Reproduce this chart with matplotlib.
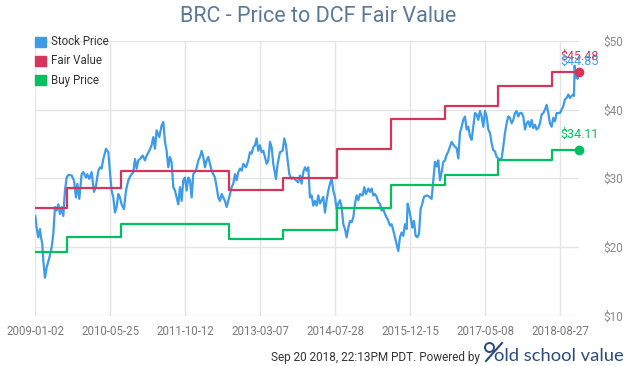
import matplotlib
matplotlib.use("Agg")
import matplotlib.pyplot as plt
from matplotlib.patches import Rectangle, Circle

plt.rcParams['font.family'] = ['Roboto', 'DejaVu Sans']

title = "BRC - Price to DCF Fair Value"
tick_idx = [0, 225, 450, 675, 900, 1125, 1350, 1575]
tick_labels = ["2009-01-02", "2010-05-25", "2011-10-12", "2013-03-07",
               "2014-07-28", "2015-12-15", "2017-05-08", "2018-08-27"]
y_ticks = [10, 20, 30, 40, 50]
y_labels = ["$10", "$20", "$30", "$40", "$50"]

stock_idx = [0, 4, 9, 14, 17, 21, 24, 29, 34, 42, 49, 54, 59, 64, 69, 74, 79, 84, 89, 94,
             99, 109, 116, 122, 126, 132, 139, 144, 152, 156, 162, 169, 176, 182, 189, 194,
             199, 204, 212, 219, 224, 229, 234, 239, 244, 249, 254, 259, 266, 272, 279, 286,
             294, 299, 304, 309, 314, 322, 329, 334, 342, 349, 354, 359, 364, 372, 379, 384,
             389, 394, 399, 404, 409, 414, 419, 424, 429, 434, 439, 444, 449, 454, 459, 464,
             469, 474, 482, 489, 494, 499, 504, 509, 514, 519, 524, 529, 534, 539, 544, 549,
             554, 559, 564, 569, 574, 579, 584, 589, 594, 599, 604, 609, 614, 619, 624, 632,
             639, 644, 649, 654, 659, 664, 669, 674, 679, 684, 689, 694, 699, 704, 709, 714,
             722, 727, 734, 742, 747, 752, 757, 762, 769, 774, 782, 789, 794, 799, 804, 809,
             814, 819, 824, 829, 834, 839, 844, 849, 854, 864, 869, 874, 879, 884, 889, 894,
             899, 904, 909, 914, 919, 924, 929, 934, 939, 944, 949, 954, 959, 964, 969, 974,
             982, 987, 992, 999, 1004, 1009, 1014, 1019, 1024, 1029, 1034, 1039, 1044, 1049,
             1054, 1059, 1064, 1069, 1074, 1079, 1084, 1089, 1094, 1099, 1104, 1109, 1114,
             1117, 1122, 1126, 1131, 1136, 1141, 1146, 1151, 1156, 1161, 1166, 1174, 1182,
             1189, 1194, 1199, 1204, 1209, 1214, 1219, 1224, 1229, 1234, 1239, 1244, 1249,
             1254, 1259, 1264, 1269, 1274, 1279, 1284, 1289, 1294, 1299, 1304, 1309, 1314,
             1319, 1324, 1329, 1334, 1339, 1344, 1349, 1354, 1359, 1364, 1369, 1374, 1379,
             1384, 1389, 1394, 1399, 1404, 1409, 1414, 1419, 1424, 1429, 1434, 1439, 1444,
             1449, 1454, 1459, 1464, 1469, 1474, 1479, 1484, 1489, 1494, 1499, 1504, 1509,
             1514, 1519, 1524, 1529, 1534, 1539, 1544, 1549, 1554, 1559, 1564, 1569, 1574,
             1579, 1584, 1589, 1594, 1599, 1604, 1609, 1614, 1616, 1618, 1621, 1624, 1627,
             1630, 1632]
stock_price = [24.5, 22.8, 21.4, 22.6, 21.4, 20.4, 18.0, 15.5, 17.0, 18.4, 19.9, 21.9, 25.8,
               25.3, 26.2, 24.8, 25.8, 24.5, 28.2, 30.1, 30.5, 30.4, 29.7, 27.2, 29.2, 27.0,
               30.6, 30.9, 30.1, 30.6, 29.9, 30.9, 28.0, 28.9, 31.1, 31.6, 31.4, 32.8, 34.3,
               33.8, 30.9, 28.2, 27.2, 25.0, 25.8, 27.7, 27.2, 26.2, 25.5, 28.2, 29.7, 30.4,
               30.9, 32.8, 31.4, 32.6, 32.8, 33.3, 32.6, 33.3, 34.0, 34.8, 36.0, 34.3, 37.0,
               36.0, 37.7, 38.2, 35.3, 34.0, 31.6, 33.1, 32.3, 28.7, 28.2, 27.2, 26.2, 28.7,
               26.7, 29.7, 30.1, 28.2, 30.1, 29.7, 27.2, 30.6, 31.1, 32.6, 33.1, 34.0, 33.1,
               31.6, 32.6, 33.1, 32.1, 31.1, 30.6, 30.1, 28.7, 27.2, 26.7, 27.7, 27.2, 26.7,
               25.8, 26.7, 27.7, 28.7, 29.2, 30.6, 29.7, 30.9, 31.4, 31.1, 32.1, 31.6, 32.6,
               33.8, 33.6, 34.5, 34.8, 35.8, 34.0, 34.8, 33.8, 34.0, 33.1, 32.1, 32.6, 35.3,
               34.5, 32.1, 29.9, 32.1, 33.8, 34.0, 35.8, 34.8, 32.6, 30.6, 29.9, 30.1, 29.7,
               29.4, 30.4, 29.2, 30.9, 31.6, 31.1, 31.6, 27.2, 27.5, 26.0, 26.7, 26.0, 27.5,
               26.3, 27.3, 25.0, 26.8, 28.2, 29.2, 30.0, 28.2, 27.3, 25.5, 26.3, 26.8, 25.8,
               23.3, 22.6, 21.4, 22.8, 23.8, 23.6, 24.3, 26.3, 27.5, 26.8, 27.7, 27.5, 28.7,
               27.7, 28.5, 28.0, 28.5, 27.5, 27.7, 27.3, 26.5, 26.3, 25.3, 25.5, 24.8, 24.3,
               23.8, 23.1, 23.3, 22.4, 21.4, 20.4, 19.4, 21.4, 22.1, 21.6, 23.3, 22.6, 26.3,
               25.3, 24.3, 22.8, 23.8, 21.6, 21.4, 21.9, 25.5, 26.3, 27.3, 27.5, 27.3, 27.0,
               29.7, 32.4, 31.7, 32.6, 29.7, 30.9, 32.4, 32.6, 33.4, 33.9, 34.6, 35.3, 34.9,
               34.6, 34.4, 32.9, 36.6, 37.5, 38.5, 39.0, 37.1, 37.5, 36.1, 35.6, 37.5, 39.5,
               39.3, 38.5, 39.8, 39.0, 37.5, 39.8, 39.0, 37.1, 36.6, 35.1, 34.1, 33.9, 33.1,
               32.9, 32.6, 32.9, 34.6, 36.6, 38.0, 39.0, 38.8, 38.0, 38.5, 39.5, 39.8, 39.0,
               39.5, 39.5, 39.0, 37.1, 38.0, 38.3, 37.5, 38.5, 37.3, 37.8, 37.1, 37.3, 38.0,
               39.3, 39.5, 40.0, 40.7, 39.5, 38.0, 37.5, 38.8, 38.3, 39.5, 39.5, 39.5, 40.0,
               40.5, 41.5, 41.7, 42.2, 41.7, 42.0, 42.2, 42.0, 46.4, 44.6, 45.6, 44.5, 45.2,
               44.85]

step_idx = [0, 94, 256, 580, 742, 904, 1066, 1229, 1389, 1551, 1632]
fair_value = [25.7, 28.6, 31.1, 28.3, 30.0, 34.2, 38.6, 40.6, 43.4, 45.48, 45.48]
buy_price = [19.3, 21.5, 23.3, 21.2, 22.5, 25.6, 29.0, 30.5, 32.6, 34.11, 34.11]

c_stock = '#3d9be9'
c_fair = '#d6355b'
c_buy = '#00c060'
c_logo = '#2a4b7c'

W, H = 635, 366
fig = plt.figure(figsize=(W / 100, H / 100), dpi=100)
ax = fig.add_axes([35.3 / W, 1 - 315.5 / H, (579.3 - 35.3) / W, (315.5 - 41) / H])

ax.plot(stock_idx, stock_price, color=c_stock, lw=1.6, zorder=3, solid_joinstyle='round')
ax.plot(step_idx, fair_value, color=c_fair, lw=1.6, drawstyle='steps-post', zorder=4)
ax.plot(step_idx, buy_price, color=c_buy, lw=1.6, drawstyle='steps-post', zorder=4)

ax.plot([step_idx[-1]], [fair_value[-1]], 'o', color=c_fair, ms=6, zorder=6, clip_on=False)
ax.plot([step_idx[-1]], [buy_price[-1]], 'o', color=c_buy, ms=6, zorder=6, clip_on=False)

ax.annotate(f"${fair_value[-1]:.2f}", (step_idx[-1], fair_value[-1]), xytext=(0, 11.5),
            textcoords='offset points', ha='center', va='center', color=c_fair, fontsize=9,
            annotation_clip=False, zorder=7)
ax.annotate(f"${stock_price[-1]:.2f}", (stock_idx[-1], stock_price[-1]), xytext=(0, 11),
            textcoords='offset points', ha='center', va='center', color=c_stock, fontsize=9,
            annotation_clip=False, zorder=7)
ax.annotate(f"${buy_price[-1]:.2f}", (step_idx[-1], buy_price[-1]), xytext=(0, 11.5),
            textcoords='offset points', ha='center', va='center', color=c_buy, fontsize=9,
            annotation_clip=False, zorder=7)

ax.set_xlim(0, 1632)
ax.set_ylim(10, 50)
ax.set_xticks(tick_idx)
ax.set_xticklabels(tick_labels)
ax.set_yticks(y_ticks)
ax.set_yticklabels(y_labels)
ax.yaxis.tick_right()
ax.tick_params(axis='y', length=0, pad=17, labelsize=8.5, labelcolor='#8a8a8a')
ax.tick_params(axis='x', length=0, pad=7, labelsize=8.3, labelcolor='#7a7a7a')
ax.grid(True, color='#e4e4e4', lw=1)
ax.set_axisbelow(True)
for s in ax.spines.values():
    s.set_visible(False)

fig.text(318 / W, 1 - 17 / H, title, ha='center', va='center', fontsize=15.5, color='#5a799c')

# legend
leg = [("Stock Price", c_stock), ("Fair Value", c_fair), ("Buy Price", c_buy)]
for i, (name, col) in enumerate(leg):
    yc = 41.7 + i * 19.3
    fig.patches.append(Rectangle((35 / W, 1 - (yc + 5) / H), 11 / W, 10 / H,
                                 transform=fig.transFigure, color=col, figure=fig))
    fig.text(50.5 / W, 1 - yc / H, name, ha='left', va='center', fontsize=8.3, color='#333333')

# footer
fig.text(480 / W, 1 - 357 / H, "Sep 20 2018, 22:13PM PDT. Powered by", ha='right', va='center',
         fontsize=8.5, color='#333333')
fig.text(494 / W, 1 - 361 / H, "old school value", ha='left', va='baseline', fontsize=13.2,
         color=c_logo, family=['Lato', 'DejaVu Sans'])
# logo "%" decoration: small ring + slash
fig.lines.append(plt.Line2D([489 / W], [1 - 347 / H], transform=fig.transFigure,
                            marker='o', ms=6.5, mfc='none', mec=c_logo, mew=1.4, ls='none'))
fig.lines.append(plt.Line2D([486 / W, 502 / W], [1 - 361 / H, 1 - 343 / H],
                            transform=fig.transFigure, color=c_logo, lw=1.5))

fig.savefig("out.png", dpi=100)
